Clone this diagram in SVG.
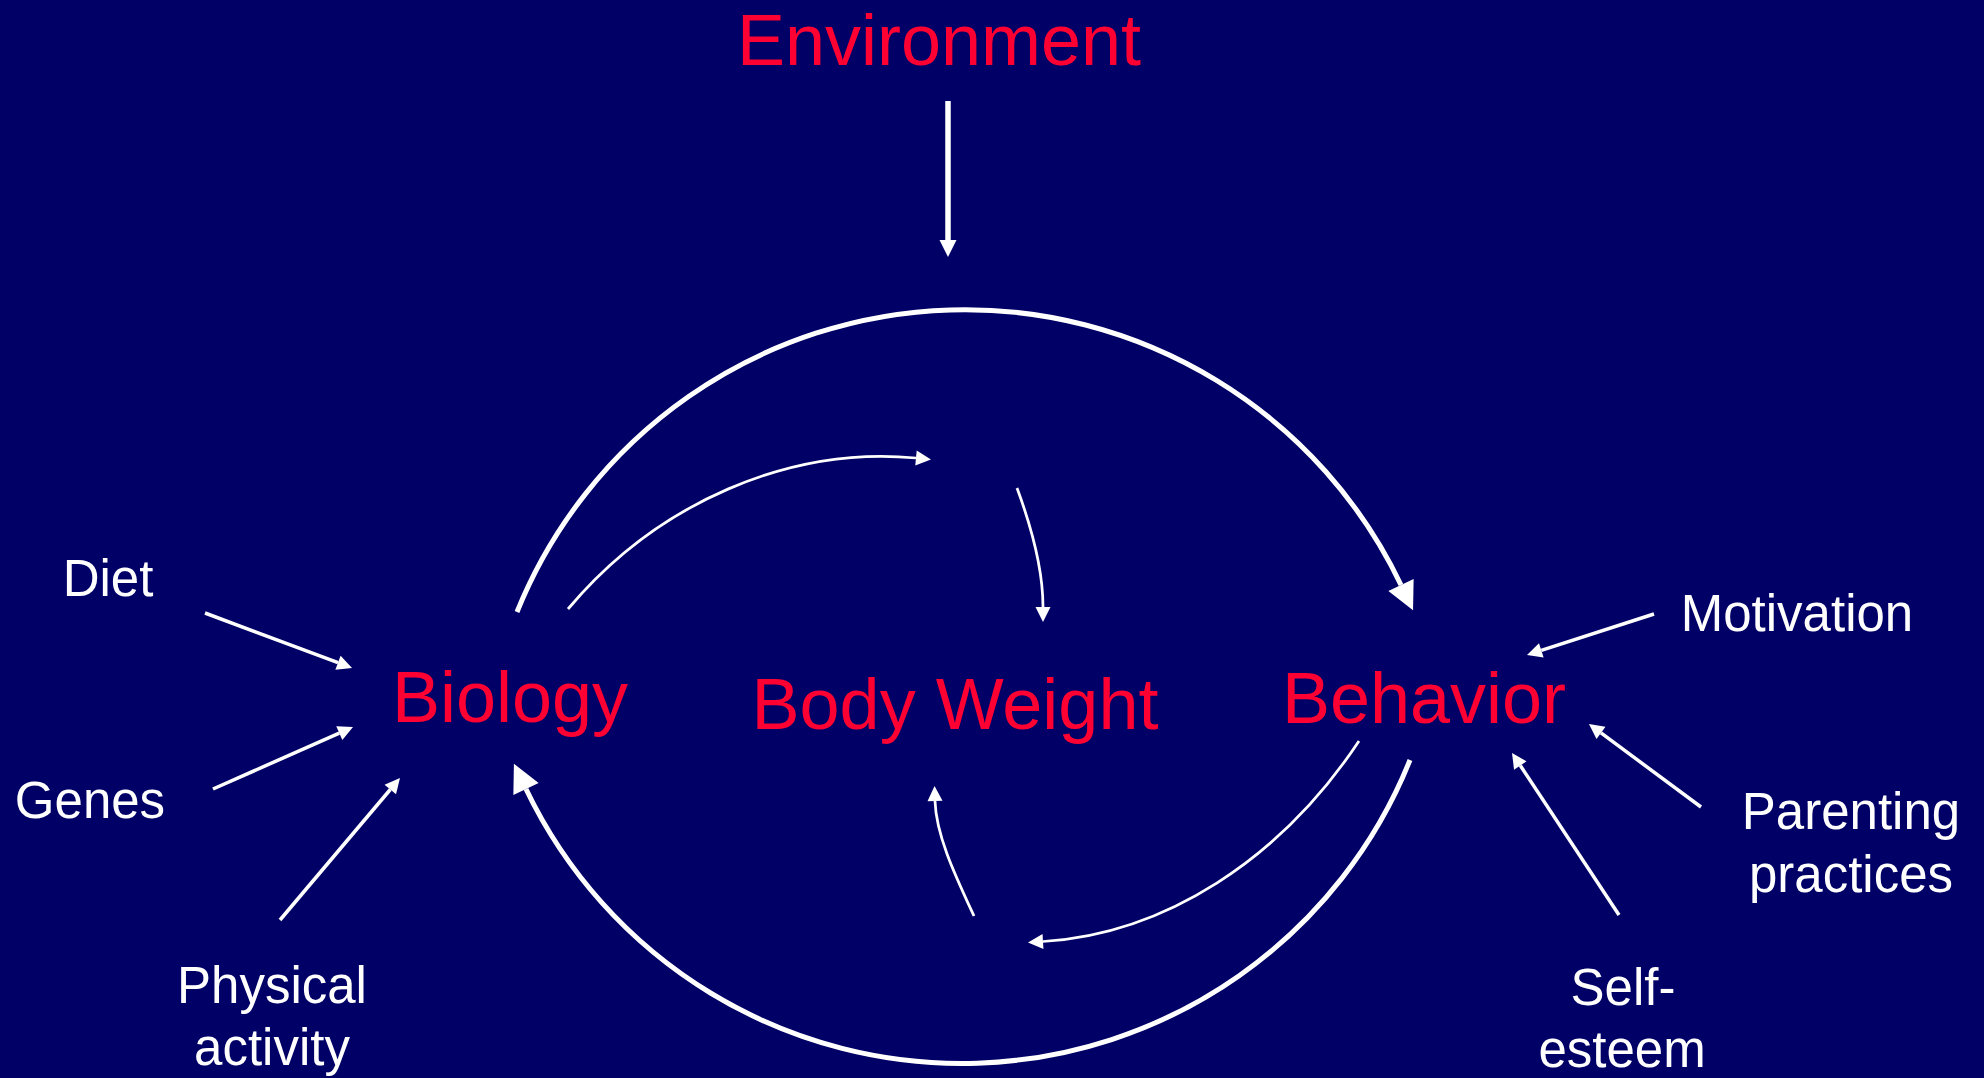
<svg xmlns="http://www.w3.org/2000/svg" width="1984" height="1078" viewBox="0 0 1984 1078">
  <style>
    .main { font-family: "Liberation Sans", Arial, sans-serif; font-size: 72px; fill: #FF0033; text-anchor: middle; }
    .factor { font-family: "Liberation Sans", Arial, sans-serif; font-size: 51px; fill: #FFFFFF; text-anchor: middle; }
    .loop { fill: none; stroke: #FFFFFF; stroke-width: 5; }
    .inner { fill: none; stroke: #FFFFFF; stroke-width: 2.75; }
    .feed { fill: none; stroke: #FFFFFF; stroke-width: 3.5; }
    .env { fill: none; stroke: #FFFFFF; stroke-width: 5.5; }
  </style>
  <defs>
    <!-- arrowheads: the path ends at the base, the triangle reaches forward to the tip -->
    <marker id="headBig" markerUnits="userSpaceOnUse" markerWidth="28" markerHeight="28" refX="0" refY="14" orient="auto" overflow="visible">
      <path d="M0,0 L28,14 L0,28 z" fill="#FFFFFF"/>
    </marker>
    <marker id="headEnv" markerUnits="userSpaceOnUse" markerWidth="17" markerHeight="17" refX="0" refY="8.5" orient="auto" overflow="visible">
      <path d="M0,0 L17,8.5 L0,17 z" fill="#FFFFFF"/>
    </marker>
    <marker id="headSmall" markerUnits="userSpaceOnUse" markerWidth="15" markerHeight="15" refX="0" refY="7.5" orient="auto" overflow="visible">
      <path d="M0,0 L15,7.5 L0,15 z" fill="#FFFFFF"/>
    </marker>
  </defs>

  <rect x="0" y="0" width="1984" height="1078" fill="#000066"/>

  <g id="connectors">
    <!-- Environment feeding down into the loop -->
    <path class="env" d="M948,101 L948,240" marker-end="url(#headEnv)"/>

    <!-- outer loop: Biology -> Behavior (over the top) and Behavior -> Biology (under) -->
    <path class="loop" d="M517,612 A483,483 0 0 1 1401,585" marker-end="url(#headBig)"/>
    <path class="loop" d="M1410,760 A483,483 0 0 1 526,789" marker-end="url(#headBig)"/>

    <!-- inner arcs around Body Weight -->
    <path class="inner" d="M568,609 C658,502 790,446 916,458" marker-end="url(#headSmall)"/>
    <path class="inner" d="M1017,488 C1034,534 1043,574 1043,607" marker-end="url(#headSmall)"/>
    <path class="inner" d="M1359,741 C1280,860 1164,934 1043,941.5" marker-end="url(#headSmall)"/>
    <path class="inner" d="M974,916 C955,875 936,835 935,801" marker-end="url(#headSmall)"/>

    <!-- factors into Biology -->
    <path class="feed" d="M205,613 L338,662.7" marker-end="url(#headSmall)"/>
    <path class="feed" d="M213,789 L339.3,733.1" marker-end="url(#headSmall)"/>
    <path class="feed" d="M280,920 L390.3,789.5" marker-end="url(#headSmall)"/>

    <!-- factors into Behavior -->
    <path class="feed" d="M1654,614 L1541.3,650.4" marker-end="url(#headSmall)"/>
    <path class="feed" d="M1701,807 L1601,732.9" marker-end="url(#headSmall)"/>
    <path class="feed" d="M1619,915 L1520.3,765.5" marker-end="url(#headSmall)"/>
  </g>

  <g id="environment"><text class="main" x="939" y="65">Environment</text></g>
  <g id="biology"><text class="main" x="510" y="722">Biology</text></g>
  <g id="body-weight"><text class="main" x="955" y="729">Body Weight</text></g>
  <g id="behavior"><text class="main" x="1424" y="723">Behavior</text></g>

  <g id="diet"><text class="factor" x="108" y="596">Diet</text></g>
  <g id="genes"><text class="factor" x="90" y="818">Genes</text></g>
  <g id="physical-activity">
    <text class="factor" x="272" y="1003">Physical</text>
    <text class="factor" x="272" y="1065">activity</text>
  </g>
  <g id="motivation"><text class="factor" x="1797" y="631">Motivation</text></g>
  <g id="parenting-practices">
    <text class="factor" x="1851" y="829">Parenting</text>
    <text class="factor" x="1851" y="892">practices</text>
  </g>
  <g id="self-esteem">
    <text class="factor" x="1623" y="1005">Self-</text>
    <text class="factor" x="1622" y="1067">esteem</text>
  </g>
</svg>
